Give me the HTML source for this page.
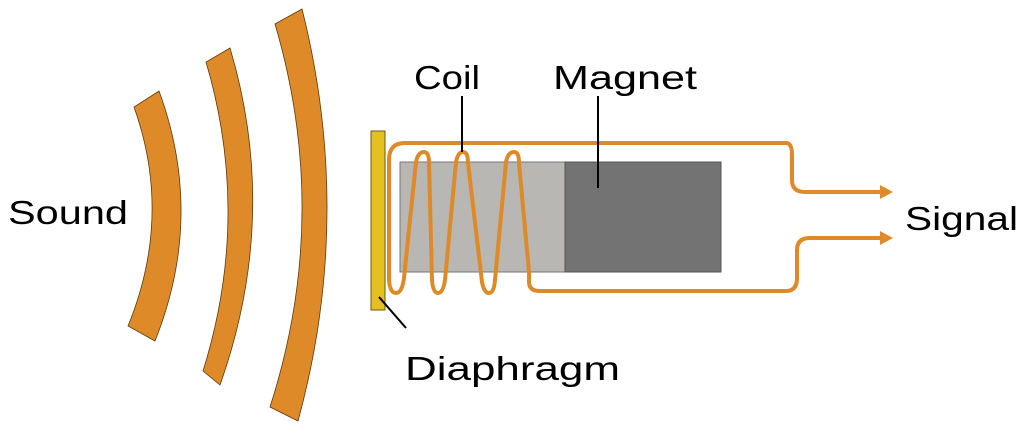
<!DOCTYPE html>
<html><head><meta charset="utf-8"><style>
html,body{margin:0;padding:0;background:#fff;}
svg{display:block;}
text{font-family:"Liberation Sans",sans-serif;font-size:33px;fill:#000;}
</style></head><body>
<svg width="1024" height="433" viewBox="0 0 1024 433" xmlns="http://www.w3.org/2000/svg">
<g fill="#df8a28" stroke="#5a3a10" stroke-width="0.8">
<path d="M134,107 Q173,216 128,326 L155,341 Q205,216 159,91 Z"/>
<path d="M206,62 Q251.5,216 203,371 L220,385 Q280,216 230,48 Z"/>
<path d="M275,24 Q331.5,216 270,407 L298,421 Q354,216 302,9 Z"/>
</g>
<rect x="400" y="162" width="165" height="110" fill="#b8b7b3" stroke="#777" stroke-width="1"/>
<rect x="565" y="162" width="156" height="110" fill="#737373" stroke="#555" stroke-width="1"/>
<g fill="none" stroke="#df8a28" stroke-width="4" stroke-linecap="round" stroke-linejoin="round">
<path d="M786,143 L405,143 Q390,143 389,158 L389,280 Q390,293 396,293 Q402,293 404,278 L416,162 Q418,152 424,152 Q429,152 429,163 L432,280 Q433,293 438,293 Q443,293 445,280 L456,162 Q458,152 463,152 Q468,152 468,163 L482,282 Q484,293 489,293 Q494,293 495,280 L506,162 Q508,152 514,152 Q519,152 519,163 L529,272 L529,282 Q529,291 540,291 L786,291"/>
<path d="M786,143 Q792,143 792,155 L792,180 Q792,192 805,192 L885,192"/>
<path d="M786,291 Q797,291 797,278 L797,250 Q797,238 810,238 L885,238"/>
</g>
<g fill="#df8a28">
<path d="M880,185 L893,192 L880,199 Z"/>
<path d="M880,231 L893,238 L880,245 Z"/>
</g>
<rect x="371" y="131" width="14" height="179" fill="#e5c022" stroke="#6a5a10" stroke-width="1"/>
<g stroke="#000" stroke-width="2">
<line x1="462" y1="96" x2="462" y2="152"/>
<line x1="598" y1="96" x2="598" y2="188"/>
<line x1="379" y1="297" x2="406" y2="328"/>
</g>
<text x="8" y="224" textLength="120" lengthAdjust="spacingAndGlyphs">Sound</text>
<text x="414" y="89" textLength="66" lengthAdjust="spacingAndGlyphs">Coil</text>
<text x="553" y="89" textLength="144" lengthAdjust="spacingAndGlyphs">Magnet</text>
<text x="905" y="230" textLength="113" lengthAdjust="spacingAndGlyphs">Signal</text>
<text x="405" y="380" textLength="215" lengthAdjust="spacingAndGlyphs">Diaphragm</text>
</svg>
</body></html>
